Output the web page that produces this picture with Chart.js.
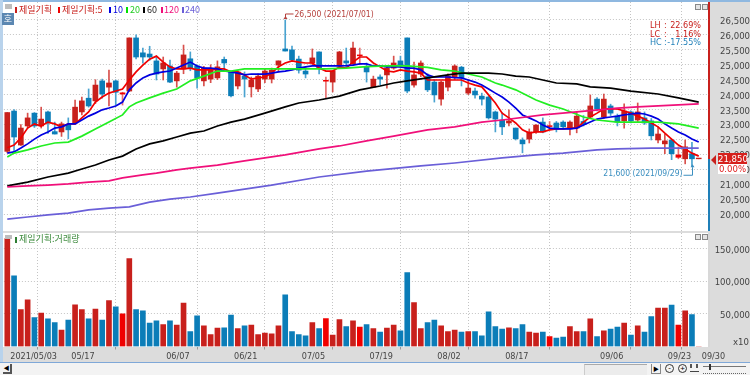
<!DOCTYPE html>
<html>
<head>
<meta charset="utf-8">
<script src="https://cdn.jsdelivr.net/npm/chart.js@4"></script>
<style>
  html, body { margin: 0; padding: 0; }
  body { width: 750px; height: 375px; overflow: hidden; position: relative; background: #dcdcdc; font-family: "Noto Sans CJK KR", sans-serif; }
  div, span, canvas { position: absolute; }
  .plot { background: #fff; left: 3px; width: 705px; }
  .lg { top: 3px; font-size: 9px; line-height: 14px; white-space: nowrap; }
  .mk { top: 7px; width: 2px; height: 6px; }
  .stat { font: 9px/10px "DejaVu Sans Condensed", sans-serif; white-space: pre; }
  .btn { background: #e4e4e4; border: 1px solid #888; box-sizing: border-box; }
  .nar { font: 9.5px/11px "DejaVu Sans Condensed", sans-serif; text-align: center; }
</style>
</head>
<body>
<div style="left:0;top:0;width:750px;height:2px;background:#8fb8e0"></div>
<div style="left:0;top:0;width:3px;height:362px;background:#b9d3ec"></div>
<div class="plot" style="top:2px;height:229px"></div>
<div class="plot" style="top:233px;height:114px"></div>
<div style="left:708px;top:2px;width:2px;height:157px;background:#c8201c"></div>
<div style="left:708px;top:159px;width:2px;height:72px;background:#1f7fb8"></div>
<div style="left:708px;top:233px;width:2px;height:114px;background:#d8d8d8"></div>
<canvas id="price" style="left:0;top:0" width="750" height="233"></canvas>
<canvas id="volume" style="left:0;top:233px" width="750" height="130"></canvas>

<div style="left:5px;top:4px;width:7px;height:5px;background:#bdbdbd"></div>
<div style="left:2px;top:13px;width:12px;height:12px;background:#5b87b2;color:#fff;font-size:9px;line-height:12px;text-align:center">호</div>
<div class="mk" style="left:15px;background:#c8201c"></div><span class="lg" style="left:19px;color:#c8201c">제일기획</span>
<div class="mk" style="left:58px;background:#f00000"></div><span class="lg" style="left:62px;color:#c8201c">제일기획:5</span>
<div class="mk" style="left:109px;background:#0000e0"></div><span class="lg" style="left:113px;color:#0000e0">10</span>
<div class="mk" style="left:126px;background:#00e000"></div><span class="lg" style="left:130px;color:#22cc22">20</span>
<div class="mk" style="left:143px;background:#000"></div><span class="lg" style="left:147px;color:#222">60</span>
<div class="mk" style="left:161px;background:#f0107a"></div><span class="lg" style="left:164px;color:#f0107a">120</span>
<div class="mk" style="left:182px;background:#6a5fd8"></div><span class="lg" style="left:185px;color:#6a5fd8">240</span>

<span class="stat" style="left:650px;top:20px;color:#c8201c">LH</span><span class="stat" style="left:664px;top:20px;color:#c8201c">:</span><span class="stat" style="right:49px;top:20px;color:#c8201c">22.69%</span>
<span class="stat" style="left:650px;top:29px;color:#c8201c">LC</span><span class="stat" style="left:664px;top:29px;color:#c8201c">:</span><span class="stat" style="right:49px;top:29px;color:#c8201c">1.16%</span>
<span class="stat" style="left:650px;top:37px;color:#1f7fb8">HC</span><span class="stat" style="left:664px;top:37px;color:#1f7fb8">:</span><span class="stat" style="right:49px;top:37px;color:#1f7fb8">-17.55%</span>
<div class="btn" style="left:695px;top:4px;width:6px;height:6px"></div>
<div class="btn" style="left:702px;top:4px;width:6px;height:6px"></div>

<div style="left:711px;top:155px;width:0;height:0;border-top:5px solid transparent;border-bottom:5px solid transparent;border-right:5px solid #c8201c"></div>
<div class="nar" style="left:718px;top:153px;width:29px;height:11px;background:#d6201c;color:#fff">21,850</div>
<div class="nar" style="left:718px;top:164px;width:29px;height:10px;background:#fff;color:#e02020;line-height:10px">0.00%</div>

<div style="left:5px;top:235px;width:7px;height:4px;background:#bdbdbd"></div>
<div class="mk" style="left:15px;top:237px;background:#2e7d32"></div><span class="lg" style="left:19px;top:232px;color:#3c8a3c">제일기획:거래량</span>
<div class="btn" style="left:695px;top:234px;width:6px;height:6px"></div>
<div class="btn" style="left:702px;top:234px;width:6px;height:6px"></div>
<span class="nar" style="left:733px;top:336px;color:#444">x10</span>

<div style="left:0;top:362px;width:750px;height:13px;background:#f3f3f3;border-top:1px solid #7fa8d8;box-sizing:border-box"></div>
<div style="left:3px;top:364px;width:9px;height:10px;background:#f3f3f3;border:1px solid #555;border-width:0 2px 2px 0;box-sizing:border-box;color:#000;font-size:6px;line-height:8px;text-align:center">◀</div>
<div style="left:584px;top:364px;width:63px;height:11px;background:#ececec;border-top:1px solid #aaa;border-left:1px solid #ccc;box-sizing:border-box"></div>
<div style="left:651px;top:364px;width:10px;height:10px;background:#f3f3f3;border:1px solid #888;border-width:0 1px 1px 1px;box-sizing:border-box;color:#000;font-size:6px;line-height:10px;text-align:center">▶</div>
<div style="left:665px;top:364px;width:7px;height:7px;border:1px solid #333;border-radius:50%;font:8px/6px 'Liberation Sans';text-align:center">-</div>
<div style="left:678px;top:364px;width:7px;height:7px;border:1px solid #333;border-radius:50%;font:8px/7px 'Liberation Sans';text-align:center">+</div>
<div style="left:690px;top:364px;width:8px;height:4px;border-left:2px dotted #555;border-right:2px dotted #555;box-sizing:border-box"></div>
<div style="left:690px;top:371px;width:9px;height:1px;background:#444"></div>
<div style="left:703px;top:366px;width:43px;height:1px;background:#777"></div>
<div style="left:709px;top:364px;width:2px;height:6px;background:#333"></div>
<div style="left:703px;top:373px;width:43px;height:2px;border-top:1px dotted #666;box-sizing:border-box"></div>

<script>
// 일봉, 2021/05/03 ~ 2021/09/30
const dates = ['2021/05/03','05/04','05/06','05/07','05/10','05/11','05/12','05/13','05/14','05/17',
  '05/18','05/20','05/21','05/24','05/25','05/26','05/27','05/28','05/31','06/01',
  '06/02','06/03','06/04','06/07','06/08','06/09','06/10','06/11','06/14','06/15',
  '06/16','06/17','06/18','06/21','06/22','06/23','06/24','06/25','06/28','06/29',
  '06/30','07/01','07/02','07/05','07/06','07/07','07/08','07/09','07/12','07/13',
  '07/14','07/15','07/16','07/19','07/20','07/21','07/22','07/23','07/26','07/27',
  '07/28','07/29','07/30','08/02','08/03','08/04','08/05','08/06','08/09','08/10',
  '08/11','08/12','08/13','08/17','08/18','08/19','08/20','08/23','08/24','08/25',
  '08/26','08/27','08/30','08/31','09/01','09/02','09/03','09/06','09/07','09/08',
  '09/09','09/10','09/13','09/14','09/15','09/16','09/17','09/23','09/24','09/27',
  '09/28','09/29','09/30',''];
const tickDates = ['2021/05/03','05/17','06/07','06/21','07/05','07/19','08/02','08/17','09/06','09/23','09/30'];

const opens = [22100,23450,22310,22950,23380,22950,23420,22760,22750,23000,23050,23420,23880,23790,24460,24250,24460,24020,24120,25900,
  25400,25360,25130,24860,24960,24460,24860,25200,24960,24460,24520,24560,25180,24760,24290,24620,24260,24190,24520,24520,
  24990,25530,25500,25190,24790,25060,25430,24450,24420,24960,25130,25030,25300,24920,24250,24590,24660,24890,25130,25900,
  24320,24690,24620,24420,23850,24250,24590,24920,24050,24120,23950,23920,23420,23150,23050,22880,22480,22510,22750,23080,
  22930,23050,23080,22850,22880,23100,23250,23850,23250,23620,23280,23120,23420,23150,23220,23120,22480,22350,22480,21900,
  21850,22020,21850];
const closes = [23400,22580,22880,23220,22950,23180,23050,22680,23020,22820,23580,23790,23620,24320,24020,24390,24080,24060,25900,25260,
  25260,25260,24690,25060,24420,24720,25330,24900,24560,24890,24860,24930,25060,23960,24760,24520,24490,24620,24790,24820,
  25130,25460,25160,24820,24690,25230,24890,24480,24790,25430,25060,25560,25330,24760,24520,24520,24890,25060,24990,24120,
  24660,25060,24160,23990,24420,24620,24960,24560,24220,23990,23850,23220,23180,22920,23120,22520,22350,22750,22980,22750,
  22960,22880,22920,23080,23280,23000,23620,23520,23850,23380,23080,23450,23120,23420,23050,22620,22680,22450,22020,21980,
  22250,21850,21850];
const highs = [23400,23500,23000,23380,23400,23580,23450,23080,23080,23220,23820,23920,24190,24500,24520,24820,24490,24080,25900,26000,
  25560,25620,25260,25260,25160,24780,25660,25430,25000,24950,25000,25130,25260,24800,24800,24760,24590,24700,24850,24890,
  25130,26500,25630,25290,24920,25530,25430,24590,24800,25450,25560,25760,25560,25060,24620,24660,24920,25290,25290,25900,
  25090,25130,24700,24500,24450,24700,25000,24950,24500,24220,24050,23950,23450,23400,23490,22880,22550,22850,23000,23220,
  23100,23100,23120,23120,23420,23300,23990,23900,24020,23680,23350,23690,23450,23720,23420,23200,22920,22680,22500,22250,
  22480,22400,21850];
const lows = [22050,22080,22300,22880,22900,22880,22700,22680,22600,22520,23000,23320,23580,23700,23880,23620,23650,23650,24100,25200,
  25050,25150,24490,24490,24400,24250,24700,24800,24220,24290,24400,24500,24820,23920,24190,23920,23920,24100,24400,24390,
  24760,25460,25100,24720,24560,24990,24690,23880,24090,24900,24930,24990,25000,24420,24250,24320,24220,24850,24890,24060,
  24250,24600,24100,23750,23650,24120,24500,24290,24000,23880,23650,23180,22750,22660,22950,22480,22050,22380,22700,22720,
  22850,22750,22850,22650,22720,22950,23200,23450,23200,23300,22950,22880,23050,23100,23000,22480,22380,22020,21820,21850,
  21680,21600,21850];
const volumes = [166000,108800,56900,71800,44600,51300,42600,36900,25100,40500,64100,56900,42600,57500,40500,70800,61000,50300,135400,56900,
  54900,35900,39500,33900,39500,32800,66700,23100,47200,31800,18500,28200,28700,48200,27700,31800,32800,18500,20500,19500,
  31800,79500,23100,18500,16400,36900,27700,43100,17400,41600,30800,39500,29800,33900,27700,22100,28200,32800,24100,113900,
  67700,27700,36900,40500,31800,23100,25100,22100,23100,23100,16400,53400,30800,26700,28700,27700,33900,22100,20500,22100,
  15400,12800,14400,30800,23100,23100,42600,15400,24100,26700,29800,35900,17400,31800,22100,46200,59000,59000,63600,32800,
  54900,49200,0];
// 시가=종가에 가까운 날은 밝은 빨강
const dojiDays = [17,47,52,80,99];

const ma5 = [22220,22310,22550,22880,23020,22950,23080,23020,22920,23020,23020,23220,23420,23750,23920,24050,24120,24190,24490,24760,
  24990,25190,25290,25090,24930,24860,24860,24890,24830,24830,24830,24860,24860,24760,24760,24660,24520,24560,24590,24720,
  24930,25060,25130,25090,25060,25060,24890,24790,24790,24930,24890,25090,25260,25260,25060,24930,24790,24760,24830,24790,
  24760,24720,24490,24490,24490,24490,24490,24490,24390,24320,24260,23990,23720,23380,23220,23050,22820,22710,22750,22750,
  22820,22850,22850,22880,22880,23080,23250,23380,23520,23520,23520,23450,23380,23280,23180,23050,22920,22710,22510,22310,
  22180,22040,21940];
const ma10 = [22040,22080,22210,22350,22510,22650,22750,22880,22920,23020,23020,23150,23280,23380,23490,23550,23620,23750,24160,24390,
  24560,24660,24720,24760,24790,24890,24990,25090,24960,24890,24890,24860,24790,24760,24720,24660,24690,24690,24690,24720,
  24760,24790,24830,24890,24930,24960,24960,24960,24960,24960,24970,24990,25030,25030,24960,24960,24930,24930,24930,24890,
  24890,24830,24660,24590,24590,24590,24570,24560,24490,24420,24320,24190,24050,23920,23750,23550,23320,23220,23120,22980,
  22880,22850,22850,22850,22880,22980,23080,23180,23220,23250,23280,23320,23350,23380,23350,23280,23180,23020,22880,22750,
  22650,22510,22410];
const ma20Days = [0,1,3,5,7,9,11,13,15,17,18,19,21,23,25,27,29,31,33,35,41,47,50,53,56,59,62,64,66,68,70,72,73,75,78,80,82,85,87,90,92,96,99,102];
const ma20 = [21910,22040,22150,22280,22380,22410,22610,22850,23080,23320,23590,23720,23890,24050,24190,24460,24620,24790,24790,24860,
  24860,24860,24890,24940,24960,24960,24910,24830,24790,24690,24590,24390,24320,24160,23820,23650,23520,23250,23150,23080,
  23080,23080,23020,22880];
const ma60Days = [0,3,6,9,11,13,15,17,19,21,23,25,27,29,31,33,35,38,41,43,46,49,52,55,57,59,62,65,67,69,71,73,75,77,79,81,84,86,89,92,96,99,102];
const ma60 = [20940,21070,21240,21370,21510,21640,21810,21940,22180,22350,22450,22580,22710,22780,22950,23080,23180,23380,23590,23720,
  23820,23950,24160,24290,24390,24460,24560,24660,24720,24720,24720,24690,24620,24590,24490,24390,24360,24260,24220,24120,
  24020,23890,23750];
const ma120Days = [0,3,6,9,12,15,17,20,22,25,27,31,35,41,46,49,53,57,62,66,70,73,79,84,90,93,96,102];
const ma120 = [20910,20940,20970,21010,21070,21110,21210,21310,21370,21480,21540,21640,21780,21980,22180,22280,22450,22610,22820,22920,
  23080,23150,23320,23420,23550,23590,23620,23690];
const ma240Days = [0,3,6,9,12,15,18,21,24,27,31,36,39,46,53,61,66,73,78,82,87,90,95,102];
const ma240 = [19830,19900,19970,20030,20140,20200,20240,20400,20500,20570,20700,20870,20970,21240,21440,21610,21710,21880,21980,22040,
  22150,22180,22210,22210];

const priceTicks = [20000,20500,21000,21500,22000,22500,23000,23500,24000,24500,25000,25500,26000,26500];
const volumeTicks = [50000,100000,150000];

const RED = '#c8201c', BRIGHT = '#f00000', BLUE = '#0b7db8';
const GRID = '#c4c4c4';
const candleColor = opens.map((o, i) =>
  dojiDays.includes(i) ? BRIGHT : closes[i] >= o ? RED : BLUE);
const wickColor = candleColor.map(c => c === RED ? '#d8504c' : c === BLUE ? '#4aa3d0' : '#e87070');

const AXIS_FAMILY = "'DejaVu Sans Condensed',sans-serif";

function knots(days, values) {
  return days.map((d, i) => ({ x: dates[d], y: values[i] }));
}
function maLine(data, color) {
  return { type: 'line', data: data, borderColor: color, borderWidth: 1.7, pointRadius: 0, tension: 0, order: 1 };
}
function xAxis(showLabels, height) {
  return {
    offset: true,
    afterBuildTicks(axis) {
      axis.ticks = tickDates.map(t => ({ value: dates.indexOf(t) }));
    },
    afterFit(axis) {
      axis.height = height;
      axis.paddingLeft = 0;
      axis.paddingRight = 0;
    },
    grid: { color: GRID, drawTicks: showLabels, tickLength: 3, tickColor: '#999', tickBorderDash: [] },
    border: { display: false, dash: [1, 2] },
    ticks: {
      display: showLabels, autoSkip: false, maxRotation: 0, align: 'start', padding: 1.5, labelOffset: 3,
      color: '#444', font: { family: AXIS_FAMILY, size: 9 },
      callback(v) { return dates[v]; }
    }
  };
}
function yAxis(ticks, min, max, pad) {
  return {
    position: 'right', min: min, max: max,
    afterBuildTicks(axis) { axis.ticks = ticks.map(v => ({ value: v })); },
    afterFit(axis) {
      axis.width = 41.1;
      axis.paddingTop = 0;
      axis.paddingBottom = 0;
    },
    grid: { color: GRID, drawTicks: false },
    border: { display: false, dash: [1, 2] },
    ticks: {
      color: '#444', font: { family: AXIS_FAMILY, size: 9.5 }, crossAlign: 'far', padding: pad, labelOffset: 1.5,
      callback(v) { return v.toLocaleString('en-US'); }
    }
  };
}

// 최고/최저가 표시
const peakLabels = {
  id: 'peakLabels',
  afterDatasetsDraw(chart) {
    const c = chart.ctx, x = chart.scales.x, y = chart.scales.y;
    const hi = highs.indexOf(Math.max(...highs)), lo = lows.indexOf(Math.min(...lows));
    c.save();
    c.font = "8.5px 'DejaVu Sans Condensed'";
    c.textBaseline = 'middle';
    c.lineWidth = 1;

    const hx = Math.round(x.getPixelForValue(hi)) + 0.5, hy = y.getPixelForValue(highs[hi]);
    c.strokeStyle = c.fillStyle = '#b5403c';
    c.beginPath(); c.moveTo(hx, hy - 1); c.lineTo(hx, hy - 6); c.lineTo(hx + 8, hy - 6); c.stroke();
    c.beginPath(); c.moveTo(hx - 2, hy - 1); c.lineTo(hx + 2, hy - 1); c.lineTo(hx, hy - 4); c.fill();
    c.fillText('26,500 (2021/07/01)', hx + 9, hy - 5);

    const lx = Math.round(x.getPixelForValue(lo)) + 0.5, ly = y.getPixelForValue(lows[lo]);
    c.strokeStyle = c.fillStyle = '#3b8fc0';
    c.beginPath(); c.moveTo(lx, ly + 1); c.lineTo(lx, ly + 9); c.lineTo(lx - 9, ly + 9); c.stroke();
    c.beginPath(); c.moveTo(lx - 2, ly + 1); c.lineTo(lx + 2, ly + 1); c.lineTo(lx, ly - 2); c.fill();
    c.textAlign = 'right';
    c.fillText('21,600 (2021/09/29)', lx - 10, ly + 7.5);
    c.restore();
  }
};

Chart.defaults.animation = false;
Chart.defaults.responsive = false;
Chart.defaults.plugins.legend.display = false;
Chart.defaults.plugins.tooltip.enabled = false;

new Chart(document.getElementById('price').getContext('2d'), {
  data: {
    labels: dates,
    datasets: [
      maLine(knots(ma240Days, ma240), '#6a5fd8'),
      maLine(knots(ma120Days, ma120), '#f0107a'),
      maLine(knots(ma60Days, ma60), '#000000'),
      maLine(knots(ma20Days, ma20), '#22ee22'),
      maLine(ma10, '#0000e0'),
      maLine(ma5, '#f00000'),
      { type: 'bar', data: opens.map((o, i) => [lows[i], highs[i]]), backgroundColor: wickColor, barThickness: 1, grouped: false, order: 3 },
      { type: 'bar', data: opens.map((o, i) => [o, closes[i] === o ? o + 25 : closes[i]]), backgroundColor: candleColor, barThickness: 5, grouped: false, order: 2 }
    ]
  },
  options: {
    layout: { padding: { left: 3.9, top: 2, right: 0, bottom: 2 } },
    scales: { x: xAxis(false, 0), y: yAxis(priceTicks, 19431, 27103, 8) }
  },
  plugins: [peakLabels]
});

new Chart(document.getElementById('volume').getContext('2d'), {
  data: {
    labels: dates,
    datasets: [
      { type: 'bar', data: volumes, backgroundColor: candleColor, barThickness: 5 }
    ]
  },
  options: {
    layout: { padding: { left: 3.9, top: 0, right: 0, bottom: 0 } },
    scales: { x: xAxis(true, 16.5), y: yAxis(volumeTicks, 0, 174600, 4) }
  }
});
</script>
</body>
</html>
